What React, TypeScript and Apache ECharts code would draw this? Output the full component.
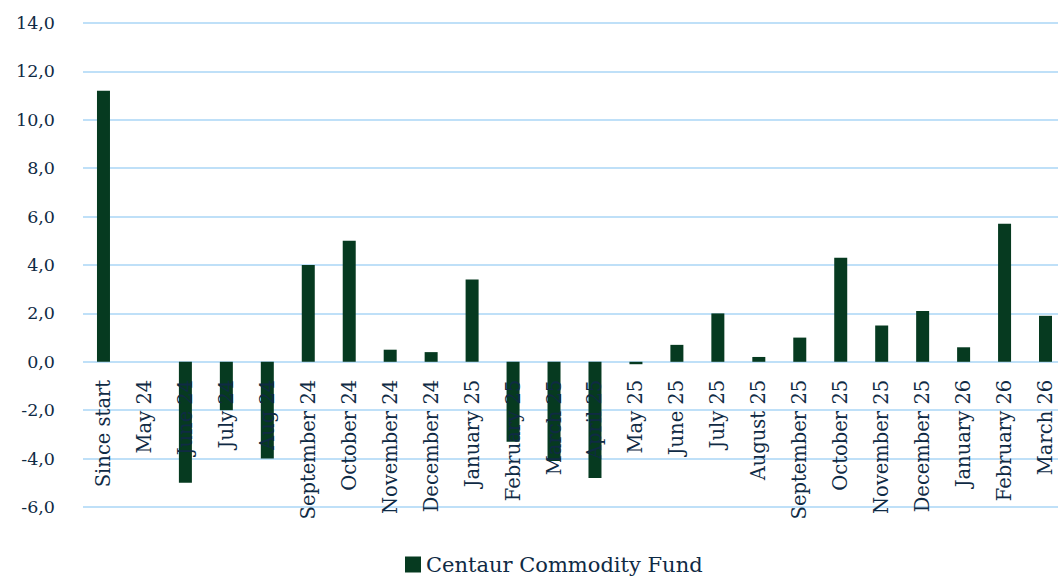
import React, { useEffect, useRef } from "react";
import * as echarts from "echarts";

const categories = [
  "Since start", "May 24", "June 24", "July 24", "Aug 24", "September 24", "October 24",
  "November 24", "December 24", "January 25", "February 25", "March 25", "April 25",
  "May 25", "June 25", "July 25", "August 25", "September 25", "October 25",
  "November 25", "December 25", "January 26", "February 26", "March 26",
];
const fundValues = [
  11.2, 0, -5.0, -2.0, -4.0, 4.0, 5.0, 0.5, 0.4, 3.4, -3.3, -4.1, -4.8,
  -0.1, 0.7, 2.0, 0.2, 1.0, 4.3, 1.5, 2.1, 0.6, 5.7, 1.9,
];
const seriesName = "Centaur Commodity Fund";
const yMin = -6;
const yMax = 14;

const FONT = "'DejaVu Serif', 'Liberation Serif', serif";
const TEXT = "#0f2a44";
const GRID = "#bfe0f8";

export default function App() {
  const ref = useRef<HTMLDivElement>(null);
  useEffect(() => {
    if (!ref.current) return;
    const chart = echarts.init(ref.current, undefined, { renderer: "svg" });
    const gridTop = 23;
    const gridHeight = 484;
    const zeroOffset = -(gridHeight * (0 - yMin)) / (yMax - yMin);
    chart.setOption({
      animation: false,
      backgroundColor: "#ffffff",
      textStyle: { fontFamily: FONT },
      legend: {
        data: [seriesName],
        left: 400,
        top: 549,
        icon: "rect",
        itemWidth: 16,
        itemHeight: 16,
        itemGap: 8,
        textStyle: { fontFamily: FONT, fontSize: 21, color: TEXT },
      },
      grid: {
        left: 83,
        right: -8,
        top: gridTop,
        height: gridHeight,
        containLabel: false,
        outerBoundsMode: "none",
      },
      xAxis: {
        type: "category",
        data: categories,
        position: "bottom",
        offset: zeroOffset,
        z: 5,
        axisLine: { show: false, onZero: false },
        axisTick: { show: false },
        axisLabel: {
          rotate: 90,
          margin: 18,
          interval: 0,
          fontFamily: FONT,
          fontSize: 19.5,
          color: TEXT,
        },
      },
      yAxis: {
        type: "value",
        min: yMin,
        max: yMax,
        interval: 2,
        axisLine: { show: false },
        axisTick: { show: false },
        splitLine: { lineStyle: { color: GRID, width: 2 } },
        axisLabel: {
          margin: 28,
          fontFamily: FONT,
          fontSize: 17.5,
          color: TEXT,
          formatter: (v: number) => v.toFixed(1).replace(".", ","),
        },
      },
      series: [
        {
          name: seriesName,
          type: "bar",
          data: fundValues,
          barWidth: 13,
          itemStyle: { color: "#063a20" },
        },
      ],
    });
    return () => chart.dispose();
  }, []);
  return (
    <div
      ref={ref}
      style={{ position: "absolute", left: 0, top: 0, width: 1058, height: 577 }}
    />
  );
}
